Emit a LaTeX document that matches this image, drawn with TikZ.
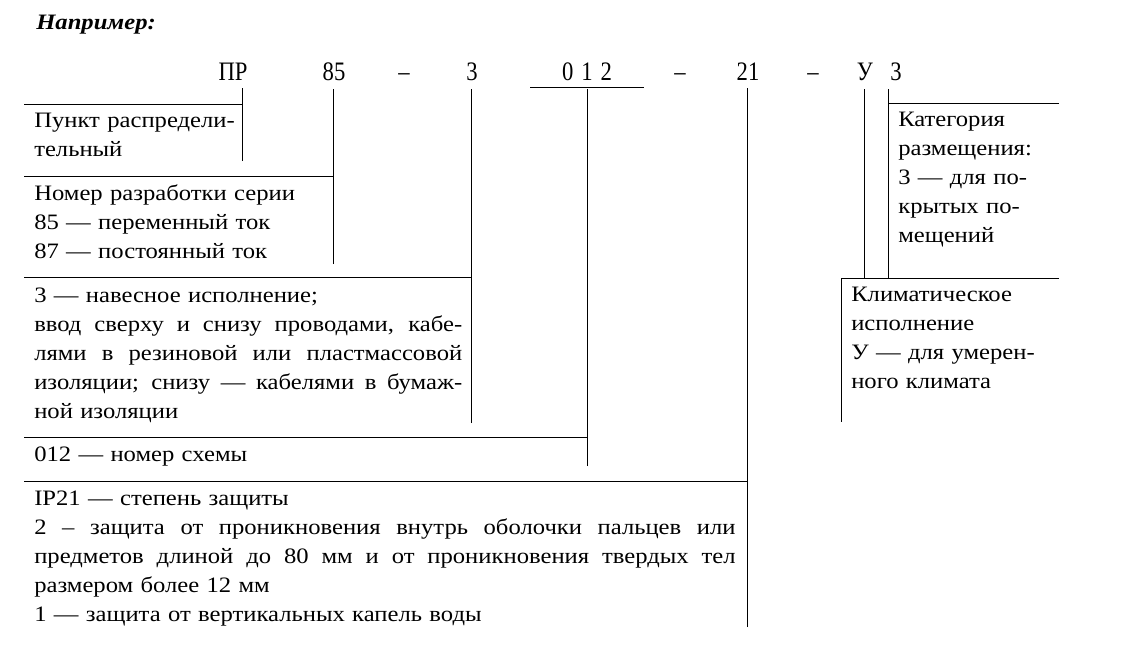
\documentclass[tikz,border=0pt]{standalone}
\usepackage{fontspec}
\setmainfont[FakeStretch=1.12]{Liberation Serif}
\newfontfamily\codefont[FakeStretch=0.85]{Liberation Serif}
\usetikzlibrary{calc,positioning}
\tikzset{code/.style={font=\codefont\fontsize{20}{20}\selectfont, inner sep=6pt, anchor=base}}
\tikzset{txt/.style={font=\fontsize{16.5}{21.75}\selectfont, inner sep=0pt, anchor=north west, align=left, execute at begin node=\strut}}
\tikzset{ln/.style={line width=0.7pt}}
\newcommand{\jline}[1]{\makebox[\hsize][s]{\spaceskip=.3333em plus 2em minus .1em\relax #1}}

\begin{document}
\begin{tikzpicture}[x=0.75pt, y=-0.75pt]
                        \useasboundingbox (0,0) rectangle (1128,669);
                        \node[anchor=base west, inner sep=0pt, font=\fontsize{16.5}{16.5}\selectfont\bfseries\itshape] (title) at (36,29) {Например:};
                        \node[code] (pr) at (233,80) {ПР};
                        \node[code] (n85) at (334,80) {85};
                        \node[code] (d1) at (404,80) {–};
                        \node[code] (n3) at (472,80) {3};
                        \node[code] (n012) at (587,80) {0\hspace{0.3em}1\hspace{0.3em}2};
                        \node[code] (d2) at (680,80) {–};
                        \node[code] (n21) at (748,80) {21};
                        \node[code] (d3) at (813,80) {–};
                        \node[code] (nU) at (865,80) {У};
                        \node[code] (nK) at (896,80) {3};
                        \node[txt, text width=200pt] (b1) at (34,107) {Пункт распредели-\\тельный};
                        \node[txt, text width=260pt] (b2) at (34,180) {Номер разработки серии\\85 — переменный ток\\87 — постоянный ток};
                        \node[txt, text width=321pt] (b3) at (34,282) {3 — навесное исполнение;\\
                        \jline{ввод сверху и снизу проводами, кабе-}\\
                        \jline{лями в резиновой или пластмассовой}\\
                        \jline{изоляции; снизу — кабелями в бумаж-}\\
                        ной изоляции};
                        \node[txt, text width=400pt] (b4) at (34,441) {012 — номер схемы};
                        \node[txt, text width=526pt] (b5) at (34,485) {IP21 — степень защиты\\
                        \jline{2 – защита от проникновения внутрь оболочки пальцев или}\\
                        \jline{предметов длиной до 80 мм и от проникновения твердых тел}\\
                        размером более 12 мм\\
                        1 — защита от вертикальных капель воды};
                        \node[txt, text width=150pt] (b6) at (898,106) {Категория\\размещения:\\3 — для по-\\крытых по-\\мещений};
                        \node[txt, text width=180pt] (b7) at (851,281) {Климатическое\\исполнение\\У — для умерен-\\ного климата};
                        \coordinate (h1) at (24,104);
                        \coordinate (v1) at (242,161);
                        \coordinate (h2) at (24,176);
                        \coordinate (v2) at (333,264);
                        \coordinate (h3) at (24,277);
                        \coordinate (v3) at (471,423);
                        \coordinate (h4) at (24,437);
                        \coordinate (v4) at (587,466);
                        \coordinate (o1) at (530,87);
                        \coordinate (o2) at (644,87);
                        \coordinate (h5) at (24,481);
                        \coordinate (v5) at (747,627);
                        \coordinate (h6) at (1059,103);
                        \coordinate (v6) at (888,278);
                        \coordinate (h7) at (1059,278);
                        \coordinate (v7) at (841,422);
                        \coordinate (u7) at (864,278);
                        \draw[ln]
                        (h1) -| (v1) (v1) -- (v1 |- pr.south)
                        (h2) -| (v2) (v2) -- (v2 |- n85.south)
                        (h3) -| (v3) (v3) -- (v3 |- n3.south)
                        (h4) -| (v4) (v4) -- (v4 |- n012.south)
                        (o1) -- (o2)
                        (h5) -| (v5) (v5) -- (v5 |- n21.south)
                        (h6) -| (v6) (v6) -- (v6 |- nK.south)
                        (h7) -| (v7)
                        (u7) -- (u7 |- nU.south);
                    \end{tikzpicture}
\end{document}
